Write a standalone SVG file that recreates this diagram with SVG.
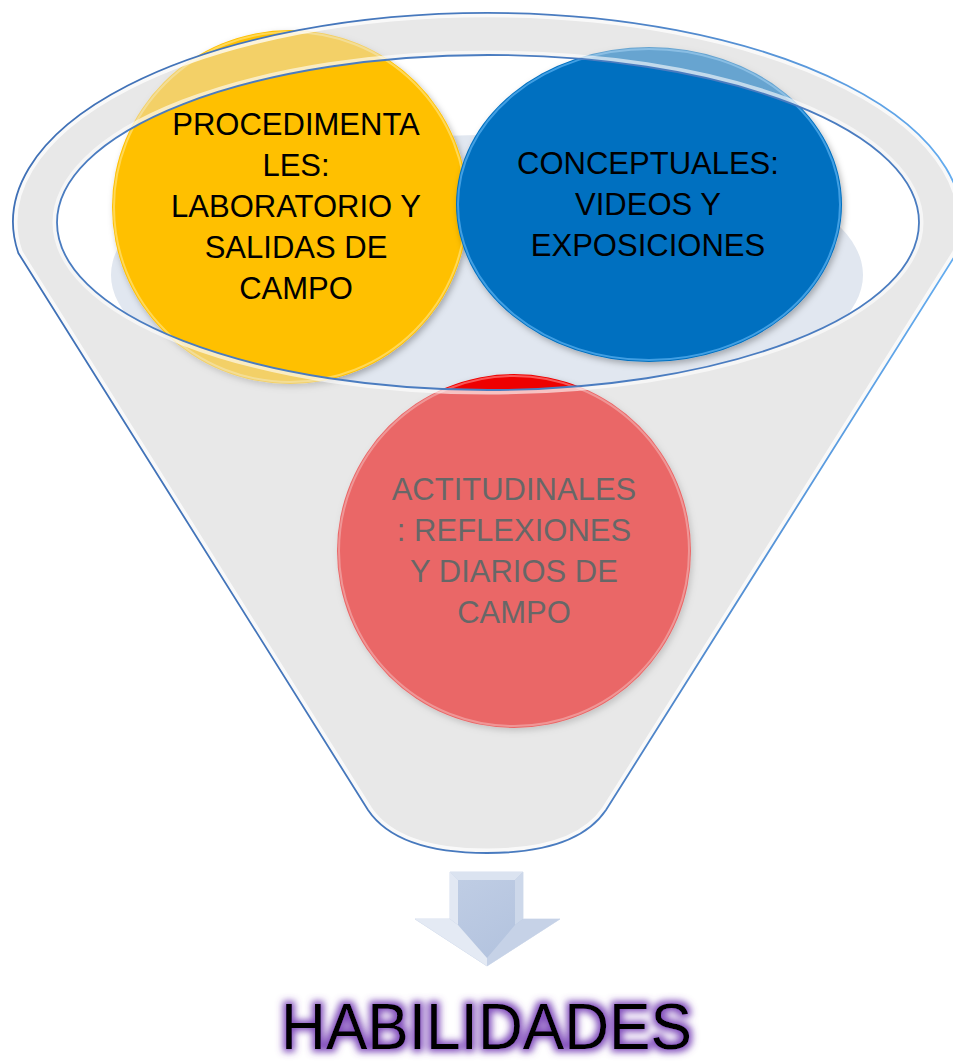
<svg xmlns="http://www.w3.org/2000/svg" width="953" height="1063" viewBox="0 0 953 1063">
<style>
.lbl{font-family:"Liberation Sans",Arial,sans-serif;font-size:31px;fill:#000;text-anchor:middle}
.outline{fill:none;stroke:#4a7cc0;stroke-width:1.8}
</style>
<defs>
<path id="sil" d="M18.3 253 A474.5 209 0 1 1 956.7 253 L606 810 Q577 853 487 853 Q397 853 368 810 Z"/>
<ellipse id="open" cx="488" cy="222.5" rx="431" ry="167.5"/>
<clipPath id="clipOpen"><use href="#open"/></clipPath>
<clipPath id="clipSil"><use href="#sil"/></clipPath>
<clipPath id="clipRim"><path clip-rule="evenodd" d="M18.3 253 A474.5 209 0 1 1 956.7 253 L606 810 Q577 853 487 853 Q397 853 368 810 Z M57 222.5 A431 167.5 0 1 0 919 222.5 A431 167.5 0 1 0 57 222.5 Z"/></clipPath>
<filter id="shadow" x="-10%" y="-10%" width="125%" height="125%">
<feDropShadow dx="2" dy="3" stdDeviation="3" flood-color="#000" flood-opacity="0.28"/>
</filter>
<filter id="glow" x="-10%" y="-40%" width="120%" height="180%">
<feMorphology in="SourceAlpha" operator="dilate" radius="3" result="d"/>
<feGaussianBlur in="d" stdDeviation="3.5" result="b"/>
<feFlood flood-color="#7b45b8" flood-opacity="0.95"/>
<feComposite in2="b" operator="in" result="g"/>
<feMerge><feMergeNode in="g"/><feMergeNode in="SourceGraphic"/></feMerge>
</filter>
<linearGradient id="sideStroke" x1="0" y1="0" x2="1" y2="0">
<stop offset="0" stop-color="#3f70b6"/><stop offset="0.6" stop-color="#4a7cc0"/><stop offset="1" stop-color="#64adf0"/>
</linearGradient>
<linearGradient id="arrowFill" x1="0" y1="0" x2="1" y2="1">
<stop offset="0" stop-color="#c3d0e6"/><stop offset="1" stop-color="#aebfdc"/>
</linearGradient>
</defs>

<g id="funnel-back">
<use href="#sil" fill="#ebebeb"/>
<use href="#open" fill="#ffffff"/>
<ellipse cx="487" cy="275" rx="376" ry="140" fill="#e1e7f0" clip-path="url(#clipOpen)"/>
</g>

<g id="node-actitudinales">
<circle cx="514" cy="551" r="177" fill="#ee0000" filter="url(#shadow)"/>
<circle cx="514" cy="551" r="175" fill="none" stroke="#ff9090" stroke-width="2" opacity="0.6"/>
<text class="lbl" x="514" y="500">ACTITUDINALES</text>
<text class="lbl" x="514" y="541">: REFLEXIONES</text>
<text class="lbl" x="514" y="582">Y DIARIOS DE</text>
<text class="lbl" x="514" y="623">CAMPO</text>
</g>

<g id="node-procedimentales">
<ellipse cx="290" cy="207" rx="178" ry="177" fill="#ffc000" filter="url(#shadow)"/>
<ellipse cx="290" cy="207" rx="176" ry="175" fill="none" stroke="#ffe27a" stroke-width="2" opacity="0.7"/>
<text class="lbl" x="296" y="135">PROCEDIMENTA</text>
<text class="lbl" x="296" y="176">LES:</text>
<text class="lbl" x="296" y="217">LABORATORIO Y</text>
<text class="lbl" x="296" y="258">SALIDAS DE</text>
<text class="lbl" x="296" y="299">CAMPO</text>
</g>

<g id="node-conceptuales">
<ellipse cx="649" cy="204.5" rx="193" ry="157.5" fill="#0070c0" filter="url(#shadow)"/>
<ellipse cx="649" cy="204.5" rx="191" ry="155.5" fill="none" stroke="#5cb4f2" stroke-width="2" opacity="0.7"/>
<text class="lbl" x="648" y="174">CONCEPTUALES:</text>
<text class="lbl" x="648" y="215">VIDEOS Y</text>
<text class="lbl" x="648" y="256">EXPOSICIONES</text>
</g>

<g id="funnel-front">
<path fill="#e4e4e4" fill-opacity="0.45" fill-rule="evenodd" d="M18.3 253 A474.5 209 0 1 1 956.7 253 L606 810 Q577 853 487 853 Q397 853 368 810 Z M57 222.5 A431 167.5 0 1 0 919 222.5 A431 167.5 0 1 0 57 222.5 Z"/>
<use href="#sil" fill="none" stroke="#ffffff" stroke-width="9" stroke-opacity="0.75" clip-path="url(#clipSil)"/>
<use href="#open" fill="none" stroke="#ffffff" stroke-width="9" stroke-opacity="0.6" clip-path="url(#clipRim)"/>
<use href="#sil" fill="none" stroke="url(#sideStroke)" stroke-width="1.8"/>
<use href="#open" class="outline"/>
</g>

<g id="arrow">
<polygon points="450,872 523,872 523,919 560,919 487,966 415,919 450,919" fill="url(#arrowFill)" stroke="#d6dfee" stroke-width="1"/>
<polygon points="450,872 523,872 515,880 458,880" fill="#dbe3f0"/>
<polygon points="450,872 458,880 458,925 450,919" fill="#e2e8f3"/>
<polygon points="523,872 515,880 515,925 523,919" fill="#cdd8ea"/>
<polygon points="415,919 450,919 458,925 487,958 487,966" fill="#e4eaf4"/>
<polygon points="560,919 523,919 515,925 487,958 487,966" fill="#c6d2e7"/>
</g>

<g id="title">
<text x="281" y="1049" font-family="'Liberation Sans',Arial,sans-serif" font-size="65" textLength="411" lengthAdjust="spacingAndGlyphs" fill="#000" filter="url(#glow)">HABILIDADES</text>
</g>
</svg>
